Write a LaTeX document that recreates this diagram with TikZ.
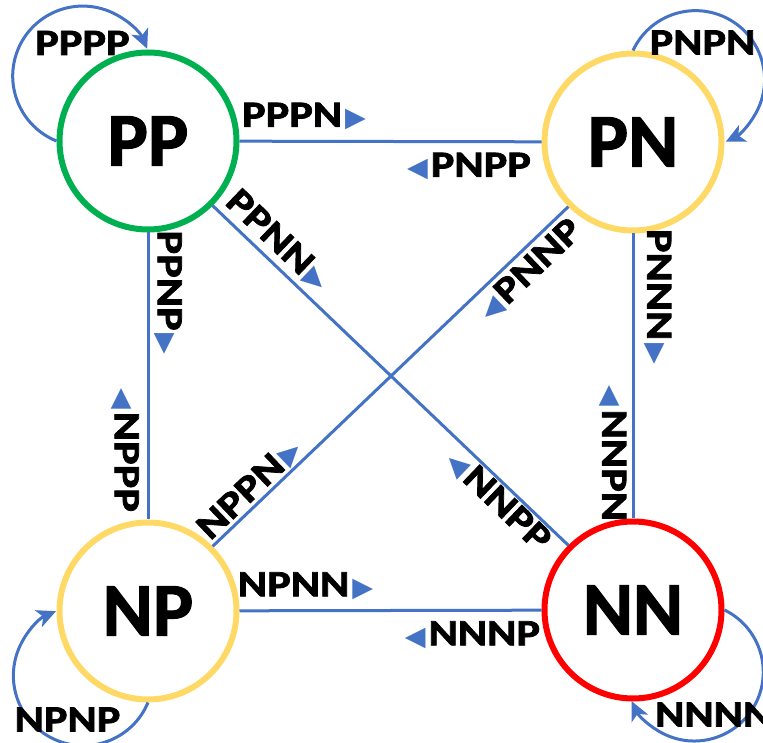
\documentclass[tikz,border=0pt]{standalone}
\usepackage{fontspec}
\setmainfont{Carlito}
\newfontfamily\bigfont[FakeBold=1.5]{Carlito Bold}
\newfontfamily\lblfont[FakeStretch=1.2,FakeBold=2]{Carlito Bold}
\newfontfamily\trifont{DejaVu Sans}
\usetikzlibrary{arrows.meta}
\definecolor{edgeblue}{HTML}{4472C4}
\definecolor{ppgreen}{HTML}{00B050}
\definecolor{softyellow}{HTML}{FFD966}
\definecolor{nnred}{HTML}{FF0000}
\newcommand{\rtri}{{\trifont\fontsize{27}{27}\selectfont\color{edgeblue}\char"25B6}}
\newcommand{\ltri}{{\trifont\fontsize{27}{27}\selectfont\color{edgeblue}\char"25C0}}
\tikzset{
  state/.style={circle, line width=6pt, minimum size=177pt, inner sep=0pt, fill=white,
    font=\bigfont\fontsize{76}{76}\selectfont},
  edgeline/.style={draw=edgeblue, line width=3pt},
  loopedge/.style={edgeline, -{Stealth[length=19pt,width=18pt,inset=5pt]}},
  elabel/.style={font=\lblfont\fontsize{37}{37}\selectfont, inner sep=0pt},
}
\begin{document}
\begin{tikzpicture}[x=1pt,y=1pt]
\useasboundingbox (0,0) rectangle (763,742);
% states
\node[state, draw=ppgreen] (PP) at (148,601) {PP};
\node[state, draw=softyellow] (PN) at (633,600) {PN};
\node[state, draw=softyellow] (NP) at (148,131) {NP};
\node[state, draw=nnred] (NN) at (633,132) {NN};
% edges
\draw[edgeline] (PP) -- (PN);
\draw[edgeline] (NP) -- (NN);
\draw[edgeline] (PP) -- (NP);
\draw[edgeline] (PN) -- (NN);
\draw[edgeline] (PP.-45) -- (NN.135);
\draw[edgeline] (PN.-135) -- (NP.45);
% loops
\draw[loopedge] (PP.180) arc[start angle=248, end angle=23, radius=70];
\draw[loopedge] (PN.90) arc[start angle=155, end angle=-64, radius=69];
\draw[loopedge] (NP.-90) arc[start angle=-22.6, end angle=-247, radius=70];
\draw[loopedge] (NN.0) arc[start angle=64, end angle=-155, radius=69];
% loop labels
\node[elabel] (lPPPP) at (82.5,699) {PPPP};
\node[elabel] (lPNPN) at (702.5,699.5) {PNPN};
\node[elabel] (lNPNP) at (67.5,22.5) {NPNP};
\node[elabel, anchor=west] (lNNNN) at (655,27.5) {NNNN};
% edge labels
\node[elabel] (lPPPN) at (304,625.5) {PPPN\hspace{3pt}\rtri};
\node[elabel] (lPNPP) at (469,575.5) {\ltri\hspace{3pt}PNPP};
\node[elabel] (lNPNN) at (305.5,156) {NPNN\hspace{3pt}\rtri};
\node[elabel] (lNNNP) at (472.5,107) {\ltri\hspace{3pt}NNNP};
\node[elabel, rotate=-90] (lPPNP) at (168,449.5) {PPNP\hspace{3pt}\rtri};
\node[elabel, rotate=-90] (lNPPP) at (125,292) {\ltri\hspace{3pt}NPPP};
\node[elabel, rotate=-90] (lPNNN) at (657.5,445.5) {PNNN\hspace{3pt}\rtri};
\node[elabel, rotate=-90] (lNNPN) at (612.5,288.5) {\ltri\hspace{3pt}NNPN};
\node[elabel, rotate=-43.7] (lPPNN) at (278,501) {PPNN\hspace{3pt}\rtri};
\node[elabel, rotate=43.7] (lPNNP) at (530,472) {\ltri\hspace{3pt}PNNP};
\node[elabel, rotate=43.7] (lNPPN) at (250,253) {NPPN\hspace{3pt}\rtri};
\node[elabel, rotate=-43.7] (lNNPP) at (498,241) {\ltri\hspace{3pt}NNPP};
\end{tikzpicture}
\end{document}
